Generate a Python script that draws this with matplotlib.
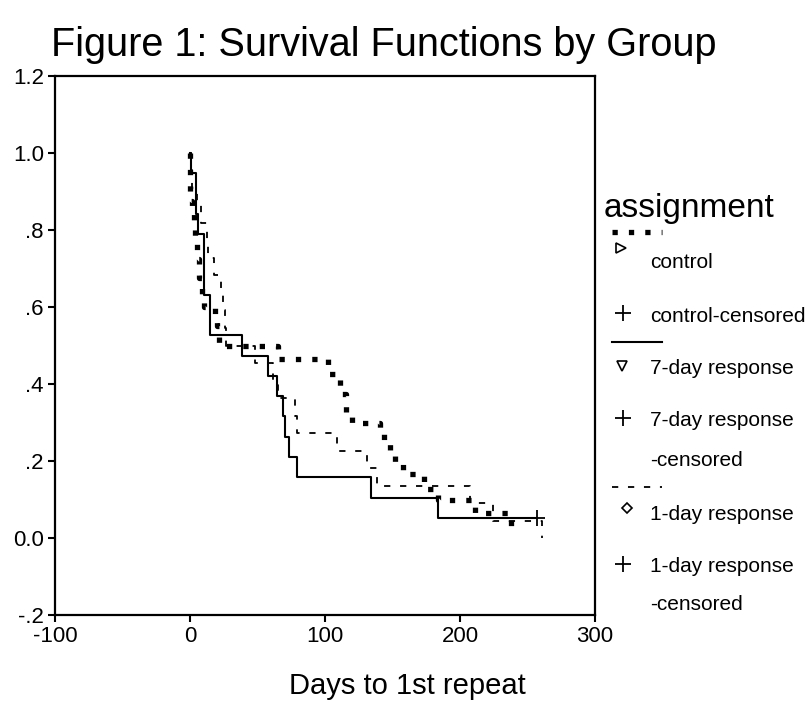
import matplotlib
matplotlib.use("Agg")
import matplotlib.pyplot as plt
from matplotlib.lines import Line2D

plt.rcParams['font.family'] = ['Liberation Sans', 'DejaVu Sans']
plt.rcParams['lines.scale_dashes'] = False

# ---- data ----
ctrl_times = [0.3, 1.8, 3.0, 4.0, 5.5, 7.0, 8.6, 10.0, 18.5, 20.0, 21.7, 65.0,
              102.5, 111.0, 115.5, 120.0, 141.0, 144.0, 148.0, 151.5, 157.5,
              173.5, 184.0, 211.0, 237.5]
ctrl_surv = [0.875, 0.85, 0.825, 0.775, 0.725, 0.675, 0.625, 0.6, 0.575, 0.55, 0.5, 0.465,
             0.425, 0.375, 0.325, 0.3, 0.275, 0.25, 0.225, 0.195, 0.165,
             0.127, 0.1, 0.064, 0.025]
ctrl_end = 241.0

d7_times = [0.5, 4.4, 6.2, 10.6, 14.8, 38.3, 57.5, 64.7, 69.0, 70.7, 73.6, 79.5, 133.8, 184.0]
d7_surv = [0.947, 0.842, 0.789, 0.632, 0.526, 0.474, 0.421, 0.368, 0.316, 0.263, 0.211,
           0.158, 0.105, 0.053]
d7_censored = [256.8]

d1_times = [0.5, 1.3, 4.9, 7.9, 12.4, 13.5, 18.0, 22.7, 24.2, 26.0, 26.8, 48.0, 61.2,
            65.4, 77.8, 79.0, 108.6, 130.9, 138.3, 207.4, 224.7, 260.5]
d1_surv = [0.955, 0.909, 0.864, 0.818, 0.773, 0.727, 0.682, 0.636, 0.591, 0.545, 0.5,
           0.455, 0.409, 0.364, 0.318, 0.273, 0.227, 0.182, 0.136, 0.091, 0.045, 0.0]

x_ticks = [-100, 0, 100, 200, 300]
x_labels = ['-100', '0', '100', '200', '300']
y_ticks = [-0.2, 0.0, 0.2, 0.4, 0.6, 0.8, 1.0, 1.2]
y_labels = ['-.2', '0.0', '.2', '.4', '.6', '.8', '1.0', '1.2']

legend_title = 'assignment'
group_names = ['control', '7-day response', '1-day response']

W, H = 811, 725
fig = plt.figure(figsize=(W / 100, H / 100), dpi=100)
ax = fig.add_axes([55 / W, 1 - 615 / H, 540 / W, 539 / H])

def px(x, y):
    return x / W, 1 - y / H

dot_style = dict(color='black', linewidth=3.8, linestyle=(0, (3.8, 8.0)),
                 dash_capstyle='butt', solid_capstyle='butt')
solid_style = dict(color='black', linewidth=1.5)
dash_style = dict(color='black', linewidth=1.3, linestyle=(0, (4.5, 7.0)))

# control (dotted)
cx = [0] + ctrl_times + [ctrl_end]
cy = [1.0] + ctrl_surv + [ctrl_surv[-1]]
ax.step(cx, cy, where='post', **dot_style)

# 7-day (solid)
sx = [0] + d7_times + d7_censored
sy = [1.0] + d7_surv + [d7_surv[-1]]
ax.step(sx, sy, where='post', **solid_style)
ax.plot(d7_censored, [d7_surv[-1]], marker='+', color='black', markersize=11,
        markeredgewidth=1.3, linestyle='none')

# 1-day (dashed)
dx = [0] + d1_times
dy = [1.0] + d1_surv
ax.step(dx, dy, where='post', **dash_style)

ax.set_xlim(-100, 300)
ax.set_ylim(-0.2, 1.2)
ax.set_xticks(x_ticks)
ax.set_xticklabels(x_labels)
ax.set_yticks(y_ticks)
ax.set_yticklabels(y_labels)
ax.tick_params(direction='out', length=5, width=1.5, labelsize=16, pad=3,
               top=False, right=False)
for sp in ax.spines.values():
    sp.set_linewidth(1.6)

# titles
fig.text(*px(384, 45), 'Figure 1: Survival Functions by Group', ha='center', va='center',
         fontsize=28.5)
fig.text(*px(407, 686), 'Days to 1st repeat', ha='center', va='center', fontsize=21)

# legend (drawn manually)
fig.text(*px(604, 209), legend_title, ha='left', va='center', fontsize=24)

def legend_line(y, style):
    x0, y0 = px(612, y)
    x1, _ = px(662, y)
    fig.add_artist(Line2D([x0, x1], [y0, y0], transform=fig.transFigure, **style))

def legend_marker(x, y, marker, size, mew=1.2):
    fig.add_artist(Line2D([px(x, y)[0]], [px(x, y)[1]], transform=fig.transFigure,
                          marker=marker, markersize=size, markerfacecolor='white',
                          markeredgecolor='black', markeredgewidth=mew, linestyle='none'))

def legend_text(y, s):
    fig.text(*px(650, y), s, ha='left', va='center', fontsize=15)

legend_line(232, dot_style)
legend_marker(621, 248, '>', 6.5)
legend_text(263, group_names[0])
legend_marker(623, 313, '+', 11, 1.3)
legend_text(316, group_names[0] + '-censored')

legend_line(342, solid_style)
legend_marker(622, 366, 'v', 6.5)
legend_text(369, group_names[1])
legend_marker(623, 418, '+', 11, 1.3)
legend_text(421, group_names[1])
legend_text(460, '-censored')

legend_line(487, dash_style)
legend_marker(627, 508, 'D', 5.5)
legend_text(515, group_names[2])
legend_marker(623, 564, '+', 11, 1.3)
legend_text(567, group_names[2])
legend_text(605, '-censored')

fig.savefig('out.png', dpi=100)
